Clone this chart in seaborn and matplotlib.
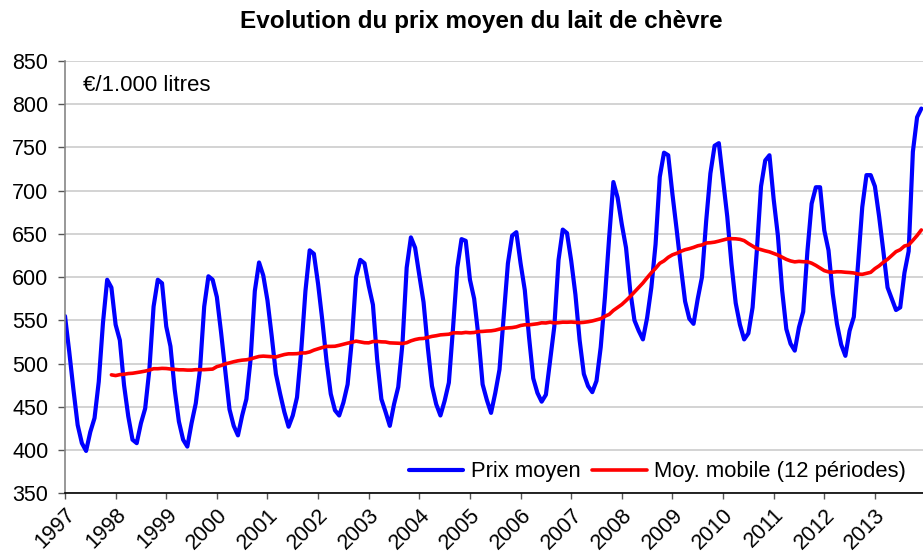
import pandas as pd
import seaborn as sns
import matplotlib.pyplot as plt
from matplotlib import transforms

# years on the axis
annees = list(range(1997, 2014))

# monthly average price, EUR / 1000 litres (Jan 1997 - Dec 2013)
prix_moyen = [
    555, 514, 470, 429, 408, 399, 421, 437, 479, 547, 597, 588,  # 1997
    545, 527, 475, 439, 412, 408, 431, 448, 493, 566, 597, 593,  # 1998
    543, 520, 470, 433, 412, 404, 431, 454, 493, 566, 601, 597,  # 1999
    577, 536, 492, 447, 428, 417, 440, 459, 505, 584, 617, 602,  # 2000
    573, 532, 488, 465, 444, 427, 440, 461, 515, 584, 631, 627,  # 2001
    592, 550, 503, 465, 446, 440, 455, 476, 527, 600, 620, 616,  # 2002
    590, 568, 505, 459, 444, 428, 453, 473, 523, 611, 646, 634,  # 2003
    602, 571, 519, 474, 453, 440, 457, 478, 542, 611, 644, 642,  # 2004
    597, 575, 532, 476, 458, 443, 466, 493, 554, 616, 648, 652,  # 2005
    616, 585, 531, 483, 466, 456, 464, 504, 543, 620, 655, 651,  # 2006
    619, 580, 527, 488, 474, 467, 480, 519, 577, 646, 710, 692,  # 2007
    661, 634, 584, 550, 538, 528, 553, 588, 638, 716, 744, 741,  # 2008
    696, 655, 612, 572, 552, 546, 575, 600, 665, 720, 752, 755,  # 2009
    712, 670, 615, 570, 545, 528, 535, 565, 630, 705, 735, 741,  # 2010
    690, 648, 585, 540, 523, 515, 542, 560, 630, 685, 704, 704,  # 2011
    654, 631, 581, 546, 522, 509, 538, 554, 615, 681, 718, 718,  # 2012
    705, 670, 630, 588, 575, 562, 565, 605, 630, 745, 785, 795,  # 2013
]

legend_labels = ['Prix moyen', 'Moy. mobile (12 périodes)']

df = pd.DataFrame({'prix': prix_moyen})
df['date'] = 1997 + df.index / 12
# 12-period moving average, like the excel trendline
df['moy'] = df['prix'].rolling(12).mean()

sns.set_style('white')
plt.rcParams['font.family'] = ['Liberation Sans', 'DejaVu Sans']
plt.rcParams['text.color'] = 'black'
plt.rcParams['xtick.color'] = 'black'
plt.rcParams['ytick.color'] = 'black'

fig = plt.figure(figsize=(9.23, 5.6), dpi=100)
ax = fig.add_axes([65 / 923, 1 - 493.3 / 560, 858 / 923, 432.3 / 560])

sns.lineplot(data=df, x='date', y='prix', color='#0000FF', linewidth=3.0,
             label=legend_labels[0], ax=ax)
sns.lineplot(data=df.dropna(), x='date', y='moy', color='#FF0000', linewidth=2.6,
             label=legend_labels[1], ax=ax)

ax.set_xlim(1997, 1997 + 203.4 / 12)
ax.set_ylim(350, 850)
ax.set_yticks(range(350, 851, 50))
ax.set_xticks(annees)
ax.set_xticklabels([str(a) for a in annees], rotation=45, ha='right', va='top',
                   rotation_mode='anchor', fontsize=15.5)
# shift year labels to the left of their tick and a bit lower
off = transforms.ScaledTranslation(-24 / 100, -18 / 100, fig.dpi_scale_trans)
for lab in ax.get_xticklabels():
    lab.set_transform(lab.get_transform() + off)

ax.tick_params(axis='y', labelsize=15.5, length=5, width=1, color='#555555', pad=7, left=True)
ax.tick_params(axis='x', length=4, width=1, color='#555555', pad=4, bottom=True)
ax.set_xlabel('')
ax.set_ylabel('')

ax.yaxis.grid(True, color='#D0D0D0', linewidth=1.3)
ax.set_axisbelow(True)
for s in ['top', 'right']:
    ax.spines[s].set_visible(False)
ax.spines['left'].set_color('#868686')
ax.spines['left'].set_linewidth(1.2)
ax.spines['bottom'].set_color('black')
ax.spines['bottom'].set_linewidth(1.2)

ax.text(0.021, 0.944, '€/1.000 litres', transform=ax.transAxes, fontsize=16,
        va='center', ha='left')

leg = ax.legend(loc='lower right', bbox_to_anchor=(0.988, 0.01), ncol=2, fontsize=15.8,
                frameon=True, framealpha=1, facecolor='white', edgecolor='none',
                handlelength=2.5, handletextpad=0.35, columnspacing=0.5,
                borderpad=0.3, borderaxespad=0, fancybox=False)

fig.text(0.521, 0.95, 'Evolution du prix moyen du lait de chèvre', ha='center',
         va='baseline', fontsize=17.5, fontweight='bold')

fig.savefig('out.png', dpi=100)
